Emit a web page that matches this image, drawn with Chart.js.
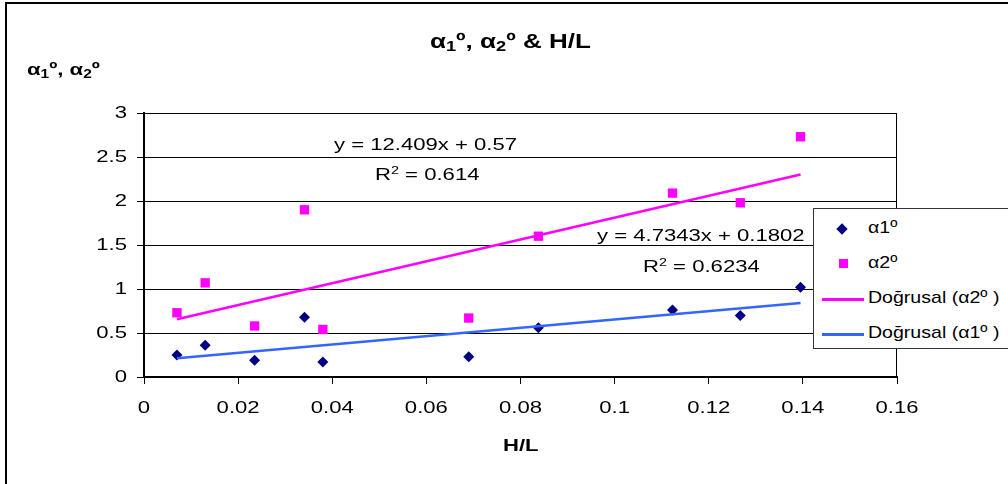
<!DOCTYPE html>
<html lang="tr">
<head>
<meta charset="UTF-8">
<title>α1º, α2º & H/L</title>
<script src="https://cdn.jsdelivr.net/npm/chart.js"></script>
<style>
    body { margin: 0; background: #fff; font-family: Arial, "Liberation Sans", sans-serif; }
    #wrap { position: relative; width: 1008px; height: 484px; overflow: hidden; }
    #frame { position: absolute; left: 5px; top: 2px; width: 1100px; height: 600px; border: 2px solid #000; }
    canvas { position: absolute; left: 0; top: 0; }
    .txt { position: absolute; color: #000; white-space: nowrap; transform: scaleX(1.3); transform-origin: 0 0; }
    .bold { font-weight: bold; }
    sub { font-size: 70%; vertical-align: -3px; line-height: 0; }
    sup { font-size: 65%; vertical-align: 6px; line-height: 0; }
    #legend { position: absolute; left: 813px; top: 208px; width: 260px; height: 139px;
              background: #fff; border: 1px solid #333; }
    .item { position: absolute; left: 54px; font-size: 17px; white-space: nowrap;
            transform: scaleX(1.15); transform-origin: 0 0; }
    .mark { position: absolute; }
</style>
</head>
<body>
<div id="wrap">
    <div id="frame"></div>
    <canvas id="chart" width="1008" height="484"></canvas>
    <div class="txt bold" style="left:430px; top:30px; font-size:20px;">α<sub>1</sub>º, α<sub>2</sub>º &amp; H/L</div>
    <div class="txt bold" style="left:27px; top:60px; font-size:17px;">α<sub>1</sub>º, α<sub>2</sub>º</div>
    <div class="txt bold" style="left:503px; top:436px; font-size:17px;">H/L</div>
    <div class="txt" style="left:334px; top:135px; font-size:17px;">y = 12.409x + 0.57</div>
    <div class="txt" style="left:375px; top:165px; font-size:17px;">R<sup>2</sup> = 0.614</div>
    <div class="txt" style="left:597px; top:226px; font-size:17px;">y = 4.7343x + 0.1802</div>
    <div class="txt" style="left:643px; top:257px; font-size:17px;">R<sup>2</sup> = 0.6234</div>
    <div id="legend">
        <div class="mark" style="left:24px; top:16px; width:8px; height:8px; background:#000080; transform:rotate(45deg);"></div>
        <div class="item" style="top:9px;">α1º</div>
        <div class="mark" style="left:25px; top:50px; width:9px; height:9px; background:#ff00ff;"></div>
        <div class="item" style="top:44px;">α2º</div>
        <div class="mark" style="left:8px; top:89px; width:42px; height:3px; background:#ff00ff;"></div>
        <div class="item" style="top:79px;">Doğrusal (α2º )</div>
        <div class="mark" style="left:8px; top:124px; width:42px; height:3px; background:#3366ff;"></div>
        <div class="item" style="top:114px;">Doğrusal (α1º )</div>
    </div>
</div>
<script>
    // H/L values (same for both series)
    const hl = [0.007, 0.013, 0.0235, 0.0341, 0.038, 0.069, 0.0838, 0.1123, 0.1267, 0.1395];
    const alpha1 = [0.25, 0.36, 0.19, 0.68, 0.17, 0.23, 0.56, 0.76, 0.70, 1.02];
    const alpha2 = [0.73, 1.07, 0.58, 1.90, 0.54, 0.67, 1.60, 2.09, 1.98, 2.73];

    // trendline end points as drawn
    const trendX = [0.007, 0.1395];
    const trend1Y = [0.213, 0.841];
    const trend2Y = [0.657, 2.301];

    const xTicks = [0, 0.02, 0.04, 0.06, 0.08, 0.1, 0.12, 0.14, 0.16];

    const toPoints = (xs, ys) => xs.map((x, i) => ({ x: x, y: ys[i] }));

    // border of the plot area (top and right sides)
    const plotBorder = {
        id: 'plotBorder',
        beforeDatasetsDraw(chart) {
            const a = chart.chartArea;
            const ctx = chart.ctx;
            ctx.save();
            ctx.strokeStyle = '#000';
            ctx.lineWidth = 1;
            ctx.beginPath();
            ctx.moveTo(a.left, a.top + 0.5);
            ctx.lineTo(a.right - 0.5, a.top + 0.5);
            ctx.lineTo(a.right - 0.5, a.bottom);
            ctx.stroke();
            ctx.restore();
        }
    };

    // tick labels, drawn a bit wide like the original
    const wideTicks = {
        id: 'wideTicks',
        afterDraw(chart) {
            const ctx = chart.ctx;
            const xs = chart.scales.x, ys = chart.scales.y;
            ctx.save();
            ctx.fillStyle = '#000';
            ctx.font = '17px Arial';
            ctx.textBaseline = 'middle';
            xs.ticks.forEach(t => {
                const label = String(+t.value.toFixed(2));
                const w = ctx.measureText(label).width * 1.3;
                ctx.save();
                ctx.translate(xs.getPixelForValue(t.value) - w / 2, xs.top + 31);
                ctx.scale(1.3, 1);
                ctx.fillText(label, 0, 0);
                ctx.restore();
            });
            ys.ticks.forEach(t => {
                const label = String(t.value);
                const w = ctx.measureText(label).width * 1.3;
                ctx.save();
                ctx.translate(ys.right - 17 - w, ys.getPixelForValue(t.value));
                ctx.scale(1.3, 1);
                ctx.fillText(label, 0, 0);
                ctx.restore();
            });
            ctx.restore();
        }
    };

    new Chart(document.getElementById('chart'), {
        type: 'scatter',
        data: {
            datasets: [
                {
                    label: 'Doğrusal (α2º )',
                    data: toPoints(trendX, trend2Y),
                    showLine: true,
                    borderColor: '#ff00ff',
                    borderWidth: 2.5,
                    pointRadius: 0
                },
                {
                    label: 'Doğrusal (α1º )',
                    data: toPoints(trendX, trend1Y),
                    showLine: true,
                    borderColor: '#3366ff',
                    borderWidth: 2.5,
                    pointRadius: 0
                },
                {
                    label: 'α1º',
                    data: toPoints(hl, alpha1),
                    pointStyle: 'rectRot',
                    pointRadius: 5.5,
                    pointBackgroundColor: '#000080',
                    pointBorderColor: '#000080',
                    pointBorderWidth: 0
                },
                {
                    label: 'α2º',
                    data: toPoints(hl, alpha2),
                    pointStyle: 'rect',
                    pointRadius: 6.6,
                    pointBackgroundColor: '#ff00ff',
                    pointBorderColor: '#ff00ff',
                    pointBorderWidth: 0
                }
            ]
        },
        options: {
            responsive: false,
            animation: false,
            layout: { padding: { left: 0, top: 113, right: 111, bottom: 67 } },
            plugins: {
                legend: { display: false },
                tooltip: { enabled: false }
            },
            scales: {
                x: {
                    type: 'linear',
                    min: 0,
                    max: 0.16,
                    afterBuildTicks: (s) => { s.ticks = xTicks.map(v => ({ value: v })); },
                    afterFit: (s) => { s.height = 40; },
                    grid: { drawOnChartArea: false, color: '#000', tickLength: 7 },
                    border: { color: '#000', width: 2 },
                    ticks: { display: false }
                },
                y: {
                    min: 0,
                    max: 3,
                    afterFit: (s) => { s.width = 144; },
                    grid: { color: '#000', lineWidth: 1, tickLength: 7 },
                    border: { color: '#000', width: 2 },
                    ticks: { display: false, stepSize: 0.5 }
                }
            }
        },
        plugins: [plotBorder, wideTicks]
    });
</script>
</body>
</html>
